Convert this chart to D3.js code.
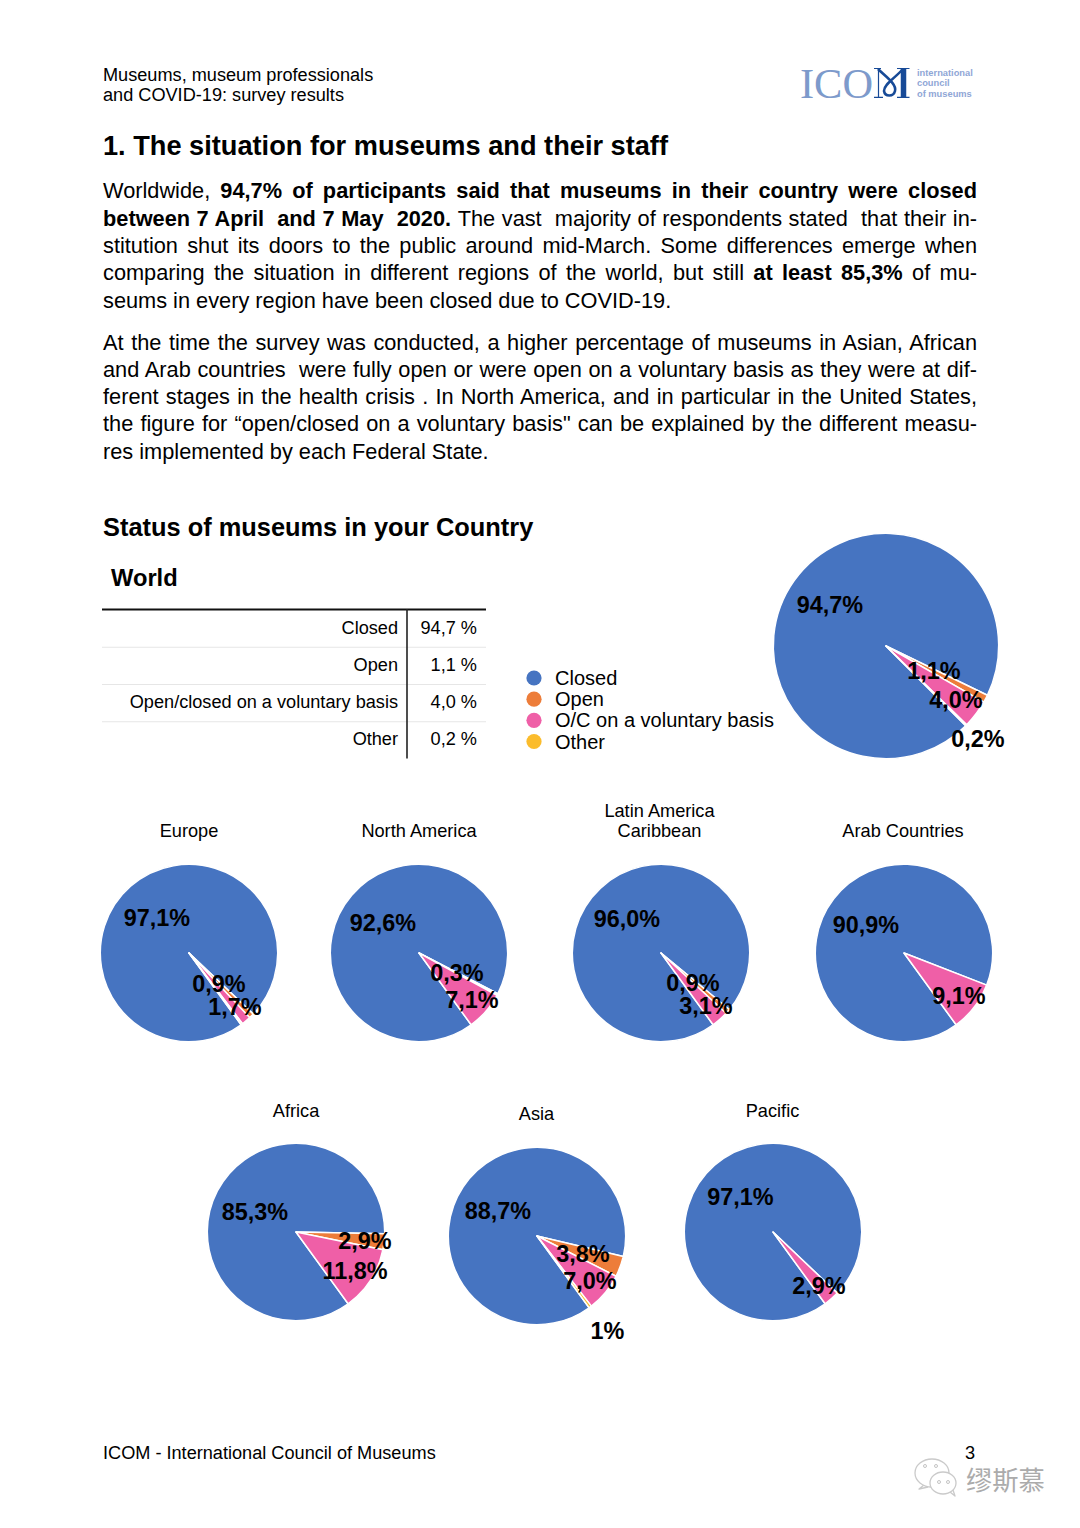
<!DOCTYPE html>
<html><head><meta charset="utf-8">
<script src="https://cdn.jsdelivr.net/npm/d3@7"></script>
<style>
html,body{margin:0;padding:0;background:#fff}
svg{display:block}
text{font-family:"Liberation Sans",Arial,sans-serif;fill:#000}
</style></head><body>
<svg id="page" width="1080" height="1528"></svg>
<script>
// ---- data ----
const statusNames = ["Closed","Open","O/C on a voluntary basis","Other"];
const tableNames = ["Closed","Open","Open/closed on a voluntary basis","Other"];
const tableValues = ["94,7 %","1,1 %","4,0 %","0,2 %"];
const worldValues = [94.7,1.1,4.0,0.2];
const europeValues = [97.1,0.9,1.7,0.3];
const northAmericaValues = [92.6,0.3,7.1,0];
const latinAmericaValues = [96.0,0.9,3.1,0];
const arabValues = [90.9,0,9.1,0];
const africaValues = [85.3,2.9,11.8,0];
const asiaValues = [88.7,3.8,7.0,0.5];
const pacificValues = [97.1,0,2.9,0];
const worldLabels = ["94,7%","1,1%","4,0%","0,2%"];
const europeLabels = ["97,1%","0,9%","1,7%"];
const northAmericaLabels = ["92,6%","0,3%","7,1%"];
const latinAmericaLabels = ["96,0%","0,9%","3,1%"];
const arabLabels = ["90,9%","9,1%"];
const africaLabels = ["85,3%","2,9%","11,8%"];
const asiaLabels = ["88,7%","3,8%","7,0%","1%"];
const pacificLabels = ["97,1%","2,9%"];

// ---- text ----
const para1 = [
 [["Worldwide, ",0],["94,7% of participants said that museums in their country were closed",1]],
 [["between 7 April  and 7 May  2020. ",1],["The vast  majority of respondents stated  that their in-",0]],
 [["stitution shut its doors to the public around mid-March. Some differences emerge when",0]],
 [["comparing the situation in different regions of the world, but still ",0],["at least 85,3%",1],[" of mu-",0]],
 [["seums in every region have been closed due to COVID-19.",0]]];
const para2 = [
 [["At the time the survey was conducted, a higher percentage of museums in Asian, African",0]],
 [["and Arab countries  were fully open or were open on a voluntary basis as they were at dif-",0]],
 [["ferent stages in the health crisis . In North America, and in particular in the United States,",0]],
 [["the figure for “open/closed on a voluntary basis\" can be explained by the different measu-",0]],
 [["res implemented by each Federal State.",0]]];

// ---- layout ----
const colors = ["#4674c1","#ed7d3a","#ef5fa7","#fbbc2c"];
const panels = [
 {v:worldValues,l:worldLabels,cx:886,cy:646,r:112.7,start:135,pos:[[830,605],[934,671],[956,700],[978,739]]},
 {v:europeValues,l:europeLabels,cx:189,cy:953,r:88.7,start:144,pos:[[157,917.5],[219,984],[235,1007]]},
 {v:northAmericaValues,l:northAmericaLabels,cx:419,cy:953,r:88.7,start:144,pos:[[383,922.5],[457,973],[472,1000]]},
 {v:latinAmericaValues,l:latinAmericaLabels,cx:661,cy:953,r:88.7,start:144,pos:[[627,919],[693,983],[706,1006]]},
 {v:arabValues,l:arabLabels,cx:904,cy:953,r:88.7,start:144,pos:[[866,925],[959,996]]},
 {v:africaValues,l:africaLabels,cx:296,cy:1232,r:88.7,start:144,pos:[[255,1212],[365,1241],[355,1271]]},
 {v:asiaValues,l:asiaLabels,cx:537,cy:1236,r:88.7,start:144,pos:[[498,1211],[583,1254],[590,1281],[607.5,1331]]},
 {v:pacificValues,l:pacificLabels,cx:773,cy:1232,r:88.7,start:144,pos:[[740.5,1197],[819,1286]]}
];
const regionTitles = [
 [["Europe"],189,831],[["North America"],419,831],[["Latin America","Caribbean"],659.5,811],[["Arab Countries"],903,831],
 [["Africa"],296,1111],[["Asia"],536.5,1114],[["Pacific"],772.5,1111]];

const svg = d3.select("#page");
function txt(s,x,y,size,opt={}){
  return svg.append("text").attr("x",x).attr("y",y).attr("font-size",size)
    .attr("font-weight",opt.bold?"bold":null).attr("text-anchor",opt.anchor||"start")
    .attr("dominant-baseline",opt.mid?"central":null).style("fill",opt.fill||null).style("font-family",opt.font||null).text(s);
}
// header
txt("Museums, museum professionals",103,81,18.15);
txt("and COVID-19: survey results",103,101,18.15);
txt("1. The situation for museums and their staff",103,154.5,27.2,{bold:true});

// body text, justified through word spacing
function para(lines,y0,lh){
  lines.forEach((runs,i)=>{
    const t=svg.append("text").attr("x",103).attr("y",y0+i*lh).attr("font-size",21.75).attr("xml:space","preserve").style("white-space","pre");
    runs.forEach(r=>t.append("tspan").attr("font-weight",r[1]?"bold":null).text(r[0]));
    if(i<lines.length-1){
      const s=runs.map(r=>r[0]).join("");
      const n=(s.match(/ /g)||[]).length;
      t.attr("word-spacing",(874-t.node().getComputedTextLength())/n);
    }
  });
}
para(para1,198.2,27.35);
para(para2,349.8,27.2);

txt("Status of museums in your Country",103,535.5,25.4,{bold:true});
txt("World",111,586,23.7,{bold:true});

// table
const rowY=d3.scaleBand().domain(d3.range(4)).range([610,759]);
svg.selectAll("line.row").data(d3.range(1,4)).join("line").attr("class","row")
  .attr("x1",102).attr("x2",486).attr("y1",d=>rowY(d)).attr("y2",d=>rowY(d)).attr("stroke","#e6e6e6").attr("stroke-width",1.2);
svg.append("line").attr("x1",102).attr("x2",486).attr("y1",609.5).attr("y2",609.5).attr("stroke","#111").attr("stroke-width",2);
svg.append("line").attr("x1",407).attr("x2",407).attr("y1",609).attr("y2",758.5).attr("stroke","#222").attr("stroke-width",1.6);
tableNames.forEach((n,i)=>{
  txt(n,398,rowY(i)+23.5,18.15,{anchor:"end"});
  txt(tableValues[i],477,rowY(i)+23.5,18.15,{anchor:"end"});
});

// legend
const legendY=d3.scalePoint().domain(statusNames).range([678,741.5]);
statusNames.forEach((n,i)=>{
  svg.append("circle").attr("cx",534).attr("cy",legendY(n)).attr("r",7.6).attr("fill",colors[i]);
  txt(n,555,legendY(n)+7,20);
});

// pies
const pct=d3.scaleLinear().domain([0,100]).range([0,2*Math.PI]);
panels.forEach(p=>{
  const a0=p.start*Math.PI/180;
  const pie=d3.pie().sort(null).value(d=>pct(d)).startAngle(a0).endAngle(a0+2*Math.PI);
  const arc=d3.arc().innerRadius(0).outerRadius(p.r);
  const g=svg.append("g").attr("transform",`translate(${p.cx},${p.cy})`);
  g.selectAll("path").data(pie(p.v).filter(d=>d.value>0)).join("path")
    .attr("d",arc).attr("fill",d=>colors[d.index]).attr("stroke","#fff").attr("stroke-width",1.5).attr("stroke-linejoin","round");
  p.l.forEach((s,i)=>txt(s,p.pos[i][0],p.pos[i][1],23.4,{bold:true,anchor:"middle",mid:true}));
});

// region titles
regionTitles.forEach(([lines,x,y])=>lines.forEach((s,i)=>txt(s,x,y+i*20,18.2,{anchor:"middle",mid:true})));

// footer
txt("ICOM - International Council of Museums",103,1459,18.15);
txt("3",965,1459,18.2);

// logo
txt("ICO",800,98,42,{font:"'Liberation Serif',serif",fill:"#7d9acb"}).attr("textLength",73).attr("lengthAdjust","spacingAndGlyphs");
const logoM=svg.append("g").attr("fill","none").attr("stroke","#174a97");
logoM.append("path").attr("d","M878.5 69V97M874 97.3H883M874 68.5H881").attr("stroke-width",1.2);
logoM.append("path").attr("d","M903.5 69V97.5M897 68.5H909.5M897 97.3H909.5").attr("stroke-width",1.2);
logoM.append("path").attr("d","M903.5 69V97").attr("stroke-width",5.5);
logoM.append("path").attr("d","M878 69C885 76 897 84 895 91C893.5 97 885 97 884 91C884 84 895 78 902 70").attr("stroke-width",2.6);
const logoSmall=["international","council","of museums"];
logoSmall.forEach((s,i)=>txt(s,917,75.5+i*10.6,9.3,{bold:true,fill:"#8fa6d6"}));

// watermark
const mark=svg.append("g").attr("fill","#fff").attr("stroke","#cacaca").attr("stroke-width",1.3).attr("stroke-linejoin","round");
const bubbles=[[932,1473,17,14,"M924 1485L919 1489L928 1487"],[943,1483,13,11,"M950 1492L955 1496L953 1490"]];
bubbles.forEach(b=>{
  mark.append("path").attr("d",b[4]);
  mark.append("ellipse").attr("cx",b[0]).attr("cy",b[1]).attr("rx",b[2]).attr("ry",b[3]);
});
const markDots=mark.append("g").attr("stroke","#c4c4c4").attr("stroke-width",1);
[[925,1466],[936,1466],[939,1482],[948,1482]].forEach(c=>markDots.append("circle").attr("cx",c[0]).attr("cy",c[1]).attr("r",1.5));
txt("缪斯慕",966,1490,26.3,{font:"'Noto Sans CJK SC',sans-serif",fill:"#ababab"});
</script>
</body></html>
